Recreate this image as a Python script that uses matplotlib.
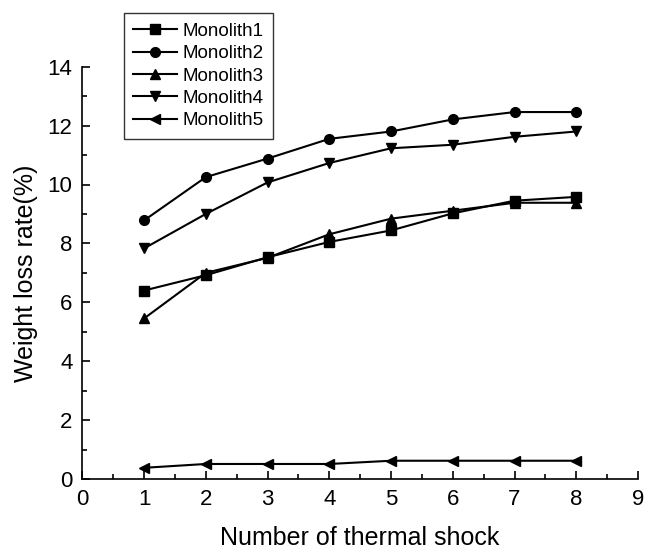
import matplotlib
matplotlib.use("Agg")
import matplotlib.pyplot as plt
from matplotlib.ticker import MultipleLocator

plt.rcParams['font.family'] = ['Liberation Sans', 'DejaVu Sans']

shocks = [1, 2, 3, 4, 5, 6, 7, 8]
monolith1 = [6.40, 6.92, 7.53, 8.05, 8.44, 9.02, 9.45, 9.58]
monolith2 = [8.78, 10.25, 10.88, 11.55, 11.80, 12.21, 12.46, 12.46]
monolith3 = [5.45, 7.00, 7.51, 8.31, 8.84, 9.11, 9.38, 9.38]
monolith4 = [7.83, 9.00, 10.07, 10.73, 11.23, 11.35, 11.62, 11.80]
monolith5 = [0.38, 0.51, 0.51, 0.51, 0.62, 0.62, 0.62, 0.62]
labels = ["Monolith1", "Monolith2", "Monolith3", "Monolith4", "Monolith5"]

W, H = 645, 550
fig = plt.figure(figsize=(W/100, H/100), dpi=100)
x0, x1, y_bot, y_top = 82.3, 638.0, 479.0, 66.7
ax = fig.add_axes([x0/W, 1-y_bot/H, (x1-x0)/W, (y_bot-y_top)/H])

series = [monolith1, monolith2, monolith3, monolith4, monolith5]
markers = ['s', 'o', '^', 'v', '<']
msizes = [6.5, 7, 7.5, 7.5, 7.5]
for s, m, ms, lab in zip(series, markers, msizes, labels):
    ax.plot(shocks, s, color='black', lw=1.5, marker=m, markersize=ms, label=lab)

ax.set_xlim(0, 9)
ax.set_ylim(0, 14)
ax.xaxis.set_major_locator(MultipleLocator(1))
ax.xaxis.set_minor_locator(MultipleLocator(0.5))
ax.yaxis.set_major_locator(MultipleLocator(2))
ax.yaxis.set_minor_locator(MultipleLocator(1))
ax.tick_params(which='both', direction='in', width=1.2, labelsize=16)
ax.tick_params(which='major', length=6)
ax.tick_params(which='minor', length=3.7)
ax.tick_params(axis='x', pad=7)
ax.tick_params(axis='y', pad=7)
for sp in ['top', 'right']:
    ax.spines[sp].set_visible(False)
for sp in ['left', 'bottom']:
    ax.spines[sp].set_linewidth(1.2)

ax.set_xlabel("Number of thermal shock", fontsize=18, va='baseline')
ax.xaxis.set_label_coords(0.5, (y_bot-545)/(y_bot-y_top))
ax.set_ylabel("Weight loss rate(%)", fontsize=18)
ax.yaxis.set_label_coords((38-x0)/(x1-x0), 0.5)

leg = fig.legend(loc='upper left', bbox_to_anchor=(124/W, 1-13.3/H),
                 fontsize=13.5, frameon=True, fancybox=False, edgecolor='black',
                 labelspacing=0.28, handlelength=2.35, handletextpad=0.25,
                 borderpad=0.5, borderaxespad=0)
leg.get_frame().set_linewidth(1.0)

fig.savefig("out.png", dpi=100)
